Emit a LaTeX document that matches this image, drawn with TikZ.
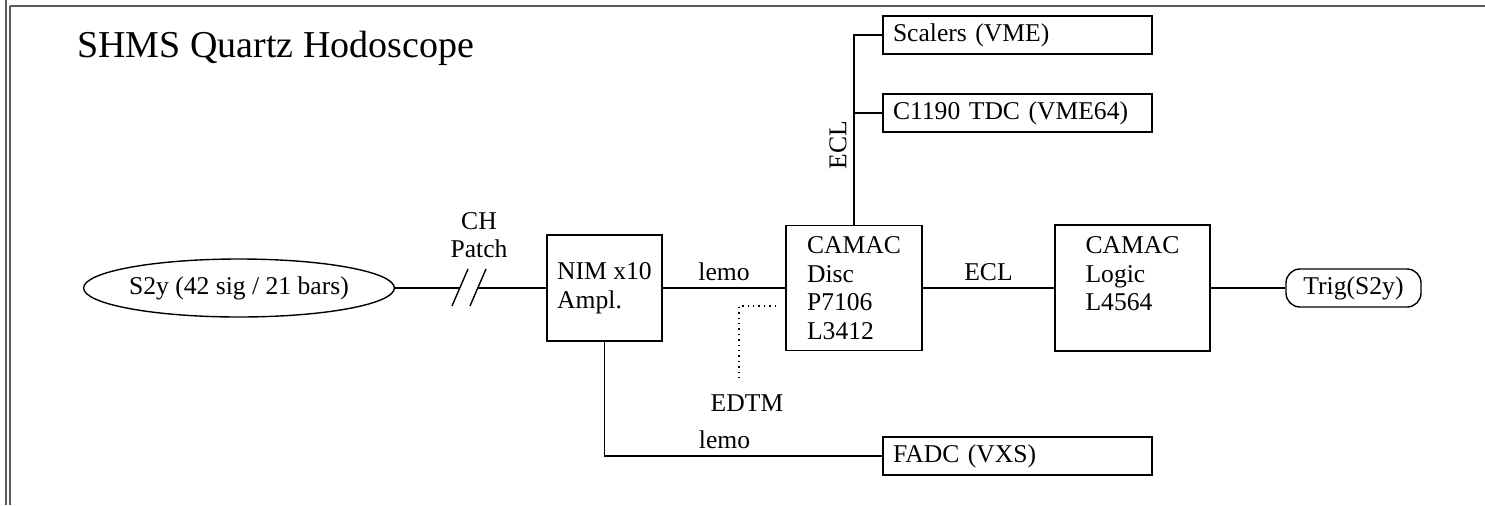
\documentclass[tikz,border=0pt]{standalone}
\usepackage{fontspec}
\setmainfont{Liberation Serif}
\usetikzlibrary{positioning,shapes.geometric,calc}
\definecolor{FrameGray}{RGB}{90,90,90}

\begin{document}
\begin{tikzpicture}[
    x=0.5pt, y=-0.5pt,
    font=\fontsize{12.8}{14.25}\selectfont,
    box/.style={rectangle,draw,line width=0.7pt,align=left},
    widebox/.style={box,inner xsep=5pt,text width=124.5pt,minimum height=19pt},
    link/.style={line width=0.7pt},
    frame/.style={FrameGray,line width=1pt}
]
\useasboundingbox (0,0) rectangle (1485,505);
% window frame
\draw[frame] (6,0) -- (6,505);
\draw[frame] (9.5,6) -- (9.5,505);
\draw[frame] (9.5,6) -- (1485,6);

% title
\node[anchor=base west, inner sep=0pt, font=\fontsize{19}{22}\selectfont] (title) at (77,57) {SHMS Quartz Hodoscope};

% signal chain
\node[ellipse,draw,line width=0.7pt,inner sep=0pt,minimum width=154pt,minimum height=29pt] (s2y) at (239,288) {S2y (42 sig / 21 bars)};
\node[box,minimum width=57.5pt,minimum height=53pt] (nim) at (604.5,288) {NIM x10\\Ampl.};
\node[box,minimum width=68pt,minimum height=62.5pt] (disc) at (854,288) {CAMAC\\Disc\\P7106\\L3412};
\node[box,minimum width=77.5pt,minimum height=63pt] (logic) at (1132.5,288) {CAMAC\\Logic\\L4564\\\mbox{}};
\node[draw,line width=0.7pt,rounded corners=7pt,minimum width=67.5pt,minimum height=19pt] (trig) at (1353.5,288) {Trig(S2y)};

% readout modules
\node[widebox] (scalers) at (1017.5,35) {Scalers (VME)};
\node[widebox] (tdc) at (1017.5,113) {C1190 TDC (VME64)};
\node[widebox] (fadc) at (1017.5,456) {FADC (VXS)};

% patch panel and EDTM
\coordinate (patchin) at (460,288);
\coordinate (patchout) at (478,288);
\node[align=center] (chpatch) at (479,235) {CH\\Patch};
\node (edtm) at (747,403) {EDTM};
\coordinate (edtmtip) at (776,306);

\draw[link] (s2y) -- (patchin);
\draw[link] (patchout) -- (nim);
\draw[link] (452,306) -- (468,269);
\draw[link] (470,306) -- (486,269);

\draw[link] (nim) -- node[above] {lemo} (disc);
\draw[link] (disc) -- node[above] {ECL} (logic);
\draw[link] (logic) -- (trig);
\draw[link] (disc.north) |- node[pos=0.21,rotate=90,anchor=south] {ECL} (scalers.west);
\draw[link] (disc.north) |- (tdc.west);
\draw[link] (nim.south) |- node[pos=0.716,above] {lemo} (fadc.west);
\draw[dotted,line width=0.7pt] (edtmtip) -| ([xshift=-4pt,yshift=3pt]edtm.north);
\end{tikzpicture}
\end{document}
